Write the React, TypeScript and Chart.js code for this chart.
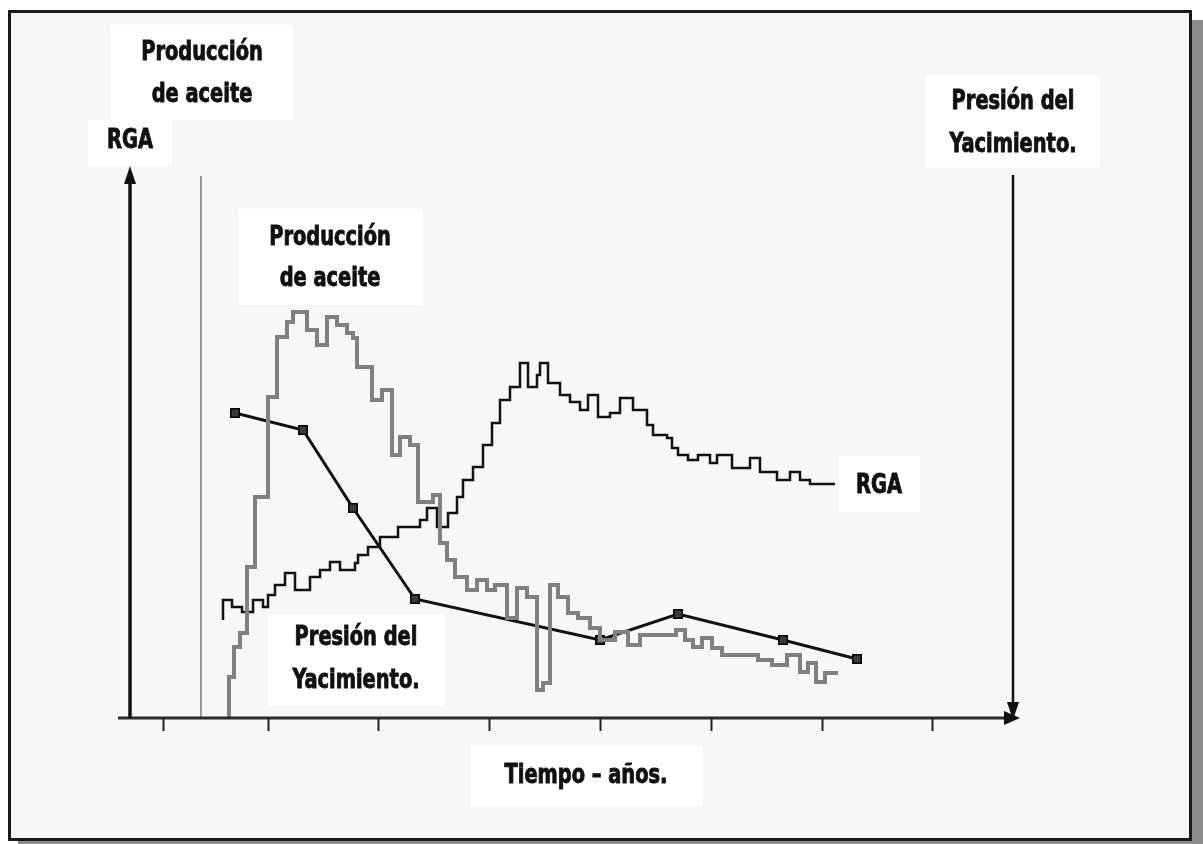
import { useEffect, useRef } from "react";
import { Chart, registerables } from "chart.js";

Chart.register(...registerables);

// Time axis (schematic units) and values
const productionTime = [10.9, 10.9, 11.4, 12.0, 12.7, 13.5, 14.8, 15.7, 16.7, 17.3, 18.7, 19.7, 20.7, 21.7, 22.7, 23.3, 23.7, 25.2, 26.2, 27.2, 28.0, 29.0, 29.8, 31.3, 32.0, 32.7, 33.5, 34.7, 35.7, 36.7, 37.5, 38.7, 39.7, 40.7, 41.7, 42.3, 43.0, 43.8, 44.8, 45.8, 47.0, 48.0, 49.5, 50.8, 52.0, 55.6, 56.5, 57.3, 58.2, 59.2, 60.2, 63.8, 65.2, 66.7, 68.0, 68.8, 69.6, 70.5, 71.5, 71.8];
const productionRate = [0, 5, 8.2, 14.2, 17, 30.2, 44.2, 64.2, 76.2, 79.2, 81.2, 77.6, 74.6, 80.2, 78.6, 77, 76, 70.2, 63.6, 65.6, 52.6, 56.2, 54.6, 43.2, 44.6, 35, 31.6, 28.2, 25.6, 27.6, 25.6, 26.6, 20, 26, 24.2, 5.6, 7, 26.6, 24.2, 21, 20, 18, 15.6, 17.2, 14.6, 16.6, 17.6, 15.6, 14.2, 16, 14, 12.6, 11.6, 10.6, 12.6, 9.2, 11, 7.2, 9, 9];

const rgaTime = [10.3, 11.2, 12.2, 13.3, 14.3, 14.8, 15.5, 16.5, 17.5, 19.0, 20.0, 21.0, 22.0, 23.5, 23.8, 24.8, 26.0, 27.8, 30.0, 30.7, 31.7, 32.8, 33.7, 34.3, 35.3, 36.3, 37.2, 38.0, 39.0, 40.0, 40.8, 41.7, 42.0, 42.8, 44.0, 45.0, 46.0, 46.8, 47.8, 49.0, 50.0, 51.3, 52.7, 53.3, 54.7, 55.2, 55.8, 56.8, 57.8, 59.0, 59.7, 61.2, 63.0, 64.0, 65.7, 67.0, 68.0, 69.0, 70.0, 71.5];
const rgaValues = [19.6, 23.6, 22.2, 21.2, 23.6, 22.2, 24.6, 26.6, 29, 25.6, 28.2, 29.6, 31.2, 29.6, 31, 32.6, 34.2, 36.2, 38.2, 39.6, 42, 38.2, 41, 44.2, 47.6, 50.2, 54.6, 59, 63.6, 66.2, 71, 66.2, 68.6, 71, 67, 64.6, 63.2, 61.6, 64.6, 60.2, 61, 64, 61.6, 58.6, 56.6, 56, 54, 52.6, 51.6, 52.6, 51, 52.6, 50, 52, 49.2, 47.6, 49.2, 47.6, 46.8, 46.8];

const pressureTime = [11.5, 18.3, 23.3, 29.5, 48.0, 55.8, 66.3, 73.7];
const pressureValues = [61, 57.6, 42, 23.8, 15.6, 20.8, 15.6, 11.8];

const timeTicks = [4.3, 14.8, 25.8, 36.9, 48.0, 59.1, 70.2, 81.2];
const leftAxisTime = 1.0;
const productionAxisTime = 8.1;
const rightAxisTime = 89.3;

const FONT = 'bold 26px "Liberation Sans Narrow", "DejaVu Sans Condensed", "Arial Narrow", sans-serif';
const TEXT_SQUEEZE = 0.83;

type Label = { lines: string[]; cx: number; ys: number[]; box: [number, number, number, number] };
const labels: Label[] = [
  { lines: ["Producción", "de aceite"], cx: 202, ys: [53, 95], box: [110, 25, 293, 120] },
  { lines: ["RGA"], cx: 130, ys: [141], box: [88, 120, 172, 166] },
  { lines: ["Producción", "de aceite"], cx: 330, ys: [238, 279], box: [238, 209, 423, 305] },
  { lines: ["Presión del", "Yacimiento."], cx: 356, ys: [638, 681], box: [268, 614, 445, 706] },
  { lines: ["RGA"], cx: 879, ys: [486], box: [838, 456, 920, 512] },
  { lines: ["Presión del", "Yacimiento."], cx: 1013, ys: [102, 145], box: [925, 75, 1100, 167] },
  { lines: ["Tiempo – años."], cx: 586, ys: [776], box: [471, 746, 703, 806] },
];

const decor = {
  id: "decor",
  beforeDraw(chart: any) {
    const ctx = chart.ctx as CanvasRenderingContext2D;
    const W = chart.width, H = chart.height;
    ctx.save();
    ctx.fillStyle = "#ffffff";
    ctx.fillRect(0, 0, W, H);
    // shadow
    ctx.fillStyle = "#8c8c8c";
    ctx.fillRect(18, 20, W - 18, H - 20);
    // panel
    ctx.fillStyle = "#f7f7f7";
    ctx.fillRect(8, 10, 1184, 831);
    ctx.strokeStyle = "#1a1a1a";
    ctx.lineWidth = 3;
    ctx.strokeRect(9.5, 11.5, 1181, 828);
    // thin production axis line
    const xs = chart.scales.x, ys = chart.scales.y;
    const px = xs.getPixelForValue(productionAxisTime);
    ctx.strokeStyle = "#777";
    ctx.lineWidth = 1.5;
    ctx.beginPath();
    ctx.moveTo(px, 176);
    ctx.lineTo(px, ys.getPixelForValue(0));
    ctx.stroke();
    ctx.restore();
  },
  afterDatasetsDraw(chart: any) {
    const ctx = chart.ctx as CanvasRenderingContext2D;
    const xs = chart.scales.x, ys = chart.scales.y;
    const y0 = ys.getPixelForValue(0);
    ctx.save();
    // x axis
    ctx.strokeStyle = "#2a2a2a";
    ctx.lineWidth = 3;
    ctx.beginPath();
    ctx.moveTo(xs.getPixelForValue(0) - 2, y0);
    ctx.lineTo(xs.getPixelForValue(90) - 10, y0);
    ctx.stroke();
    ctx.fillStyle = "#111";
    const xe = xs.getPixelForValue(90);
    ctx.beginPath();
    ctx.moveTo(xe, y0);
    ctx.lineTo(xe - 16, y0 - 7);
    ctx.lineTo(xe - 16, y0 + 7);
    ctx.closePath();
    ctx.fill();
    // ticks
    ctx.lineWidth = 2;
    ctx.strokeStyle = "#222";
    for (const t of timeTicks) {
      const tx = Math.round(xs.getPixelForValue(t)) + 0.5;
      ctx.beginPath();
      ctx.moveTo(tx, y0);
      ctx.lineTo(tx, y0 + 13);
      ctx.stroke();
    }
    // left axis
    const lx = xs.getPixelForValue(leftAxisTime);
    ctx.strokeStyle = "#111";
    ctx.lineWidth = 3.5;
    ctx.beginPath();
    ctx.moveTo(lx, y0);
    ctx.lineTo(lx, 180);
    ctx.stroke();
    ctx.beginPath();
    ctx.moveTo(lx, 166);
    ctx.lineTo(lx - 6, 184);
    ctx.lineTo(lx + 6, 184);
    ctx.closePath();
    ctx.fill();
    // right axis
    const rx = xs.getPixelForValue(rightAxisTime);
    ctx.lineWidth = 2.5;
    ctx.beginPath();
    ctx.moveTo(rx, 175);
    ctx.lineTo(rx, y0 - 12);
    ctx.stroke();
    ctx.beginPath();
    ctx.moveTo(rx, y0 + 2);
    ctx.lineTo(rx - 6, y0 - 16);
    ctx.lineTo(rx + 6, y0 - 16);
    ctx.closePath();
    ctx.fill();
    // labels
    for (const l of labels) {
      const [x1, y1, x2, y2] = l.box;
      ctx.fillStyle = "#ffffff";
      ctx.fillRect(x1, y1, x2 - x1, y2 - y1);
      l.lines.forEach((s, i) => {
        ctx.save();
        ctx.translate(l.cx, l.ys[i]);
        ctx.scale(TEXT_SQUEEZE, 1);
        ctx.font = FONT;
        ctx.textAlign = "center";
        ctx.textBaseline = "middle";
        ctx.fillStyle = "#111";
        ctx.strokeStyle = "#111";
        ctx.lineWidth = 0.9;
        ctx.fillText(s, 0, 0);
        ctx.strokeText(s, 0, 0);
        ctx.restore();
      });
    }
    ctx.restore();
  },
};

export default function App() {
  const ref = useRef<HTMLCanvasElement | null>(null);
  useEffect(() => {
    if (!ref.current) return;
    const chart = new Chart(ref.current, {
      type: "line",
      data: {
        datasets: [
          {
            label: "Producción de aceite",
            data: productionTime.map((x, i) => ({ x, y: productionRate[i] })),
            borderColor: "#808080",
            borderWidth: 4,
            stepped: "after",
            pointRadius: 0,
            fill: false,
          },
          {
            label: "RGA",
            data: rgaTime.map((x, i) => ({ x, y: rgaValues[i] })),
            borderColor: "#111",
            borderWidth: 2.5,
            stepped: "after",
            pointRadius: 0,
            fill: false,
          },
          {
            label: "Presión del Yacimiento.",
            data: pressureTime.map((x, i) => ({ x, y: pressureValues[i] })),
            borderColor: "#111",
            borderWidth: 3,
            pointStyle: "rect",
            pointRadius: 6,
            pointBackgroundColor: "#3a3a3a",
            pointBorderColor: "#000",
            pointBorderWidth: 1.5,
            tension: 0,
            fill: false,
          },
        ],
      },
      options: {
        responsive: false,
        animation: false,
        devicePixelRatio: 1,
        layout: { padding: { left: 120, right: 183, top: 168, bottom: 126 } },
        plugins: { legend: { display: false }, tooltip: { enabled: false }, title: { display: false } },
        scales: {
          x: { type: "linear", min: 0, max: 90, display: false },
          y: { type: "linear", min: 0, max: 110, display: false },
        },
      },
      plugins: [decor],
    });
    return () => chart.destroy();
  }, []);
  return (
    <div style={{ position: "fixed", left: 0, top: 0, width: 1203, height: 844 }}>
      <canvas ref={ref} width={1203} height={844} style={{ display: "block", width: 1203, height: 844 }} />
    </div>
  );
}
